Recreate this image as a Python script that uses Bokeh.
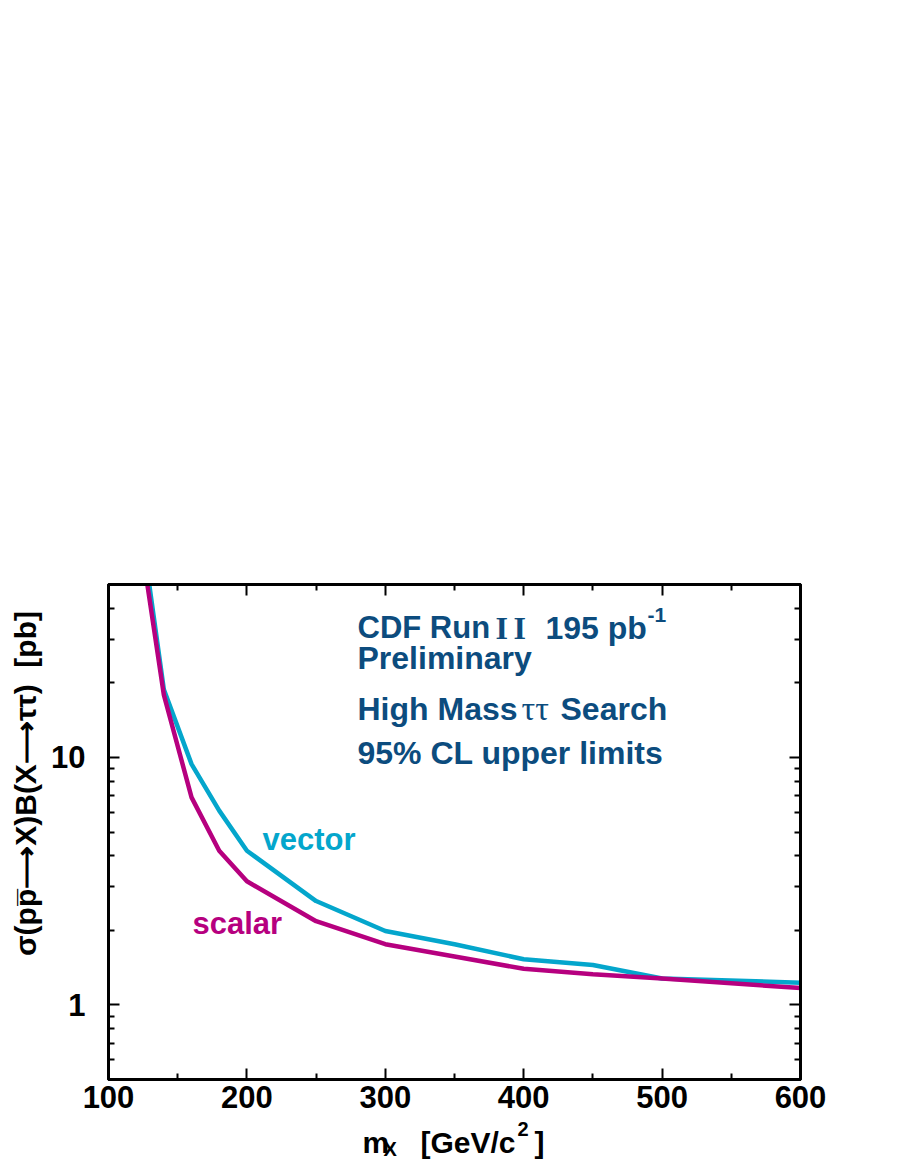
import math
from bokeh.plotting import figure
from bokeh.models import Range1d, LinearAxis, LogAxis, FixedTicker, Label, PrintfTickFormatter
from bokeh.embed import file_html
from bokeh.resources import INLINE

# ---------------- data ----------------
mass = [120, 140, 160, 180, 200, 250, 300, 350, 400, 450, 500, 600]
vector_limit = [120.0, 18.8, 9.4, 6.1, 4.2, 2.63, 1.99, 1.76, 1.53, 1.45, 1.28, 1.23]
scalar_limit = [100.0, 17.9, 6.9, 4.2, 3.16, 2.18, 1.76, 1.57, 1.40, 1.33, 1.28, 1.17]
x_ticks = [100, 200, 300, 400, 500, 600]
x_minor = [150, 250, 350, 450, 550]
y_ticks = [1, 10]
y_minor = [0.5, 0.6, 0.7, 0.8, 0.9, 2, 3, 4, 5, 6, 7, 8, 9, 20, 30, 40, 50]

SANS = "Liberation Sans"
SERIF = "Liberation Serif"
NAVY = "#0c4c7e"
CYAN = "#04a6cc"
MAGENTA = "#b6007f"

# frame geometry on page
FL, FB = 108, 1079
DY = -10  # correction between requested and drawn text baseline

p = figure(width=900, height=1164, x_range=Range1d(100, 600), y_range=Range1d(0.5, 50),
           y_axis_type="log", output_backend="svg", toolbar_location=None,
           min_border_left=108, min_border_right=100, min_border_top=584, min_border_bottom=85)
p.xgrid.grid_line_color = None
p.ygrid.grid_line_color = None
p.outline_line_color = "black"
p.outline_line_width = 3
p.background_fill_color = "white"
p.border_fill_color = "white"

xt = FixedTicker(ticks=x_ticks, minor_ticks=x_minor)
yt = FixedTicker(ticks=y_ticks, minor_ticks=y_minor)


def style(ax, show_labels, standoff):
    ax.axis_line_color = "black"
    ax.axis_line_width = 3
    ax.major_tick_in = 11
    ax.major_tick_out = 0
    ax.minor_tick_in = 6
    ax.minor_tick_out = 0
    ax.major_tick_line_width = 2
    ax.minor_tick_line_width = 2
    ax.major_label_text_font = SANS
    ax.major_label_text_font_style = "bold"
    ax.major_label_text_font_size = "31px"
    ax.major_label_text_color = "black" if show_labels else None
    ax.major_label_standoff = standoff


p.xaxis.ticker = xt
p.yaxis.ticker = yt
p.yaxis.formatter = PrintfTickFormatter(format="%d")
style(p.xaxis[0], True, 6)
style(p.yaxis[0], True, 23)

top = LinearAxis(ticker=xt)
style(top, False, 0)
top.major_label_text_font_size = "0px"
p.add_layout(top, "above")
right = LogAxis(ticker=yt)
style(right, False, 0)
right.major_label_text_font_size = "0px"
p.add_layout(right, "right")

# ---------------- curves ----------------
p.line(mass, vector_limit, line_color=CYAN, line_width=4.5)
p.line(mass, scalar_limit, line_color=MAGENTA, line_width=4.5)


def lab(text, px, py, size, color="black", font=SANS, style_="bold"):
    """label inside the frame (frame-relative screen units)"""
    p.add_layout(Label(x=px - FL, y=FB - (py + DY), x_units="screen", y_units="screen", text=text,
                       text_font=font, text_font_style=style_, text_font_size=f"{size}px",
                       text_color=color, text_baseline="alphabetic"))


def side_lab(place, text, px, py, size, color="black", font=SANS, style_="bold",
             angle=0.0, align="left"):
    """label outside the frame, hosted in a roomy side panel, canvas units"""
    p.add_layout(Label(x=px, y=py, x_units="canvas", y_units="canvas", text=text,
                       text_font=font, text_font_style=style_, text_font_size=f"{size}px",
                       text_color=color, angle=angle, text_align=align,
                       text_baseline="alphabetic"), place)


# annotation block
lab("CDF Run", 357, 637, 31, NAVY)
lab("I", 495, 637, 32, NAVY, font=SERIF)
lab("I", 513, 637, 32, NAVY, font=SERIF)
lab("195 pb", 545, 637, 32, NAVY)
lab("-1", 647, 624, 21, NAVY)
lab("Preliminary", 357, 667, 32, NAVY)
lab("High Mass", 357, 718, 32, NAVY)
lab("ττ", 521, 718, 34, NAVY, font=SERIF, style_="normal")
lab("Search", 560, 718, 32, NAVY)
lab("95% CL upper limits", 357, 762, 32, NAVY)

# curve labels
lab("vector", 262, 849, 31, CYAN)
lab("scalar", 192, 933, 31, MAGENTA)

# x axis title (hosted in the tall top panel so it does not resize the frame)
side_lab("above", "m", 362, 1152 + DY, 30)
side_lab("above", "X", 383, 1158 + DY, 20)
side_lab("above", "[GeV/c", 420, 1152 + DY, 30)
side_lab("above", "2", 517, 1138 + DY, 20)
side_lab("above", "]", 534, 1152 + DY, 30)

# y axis title (rotated)
side_lab("left", "σ(pp\u0305\u27f6X)B(X\u27f6ττ)\u00a0\u00a0[pb]", 35 + DY, 783, 30,
         angle=math.pi / 2, align="center")

open("out.html", "w").write(file_html(p, INLINE))
